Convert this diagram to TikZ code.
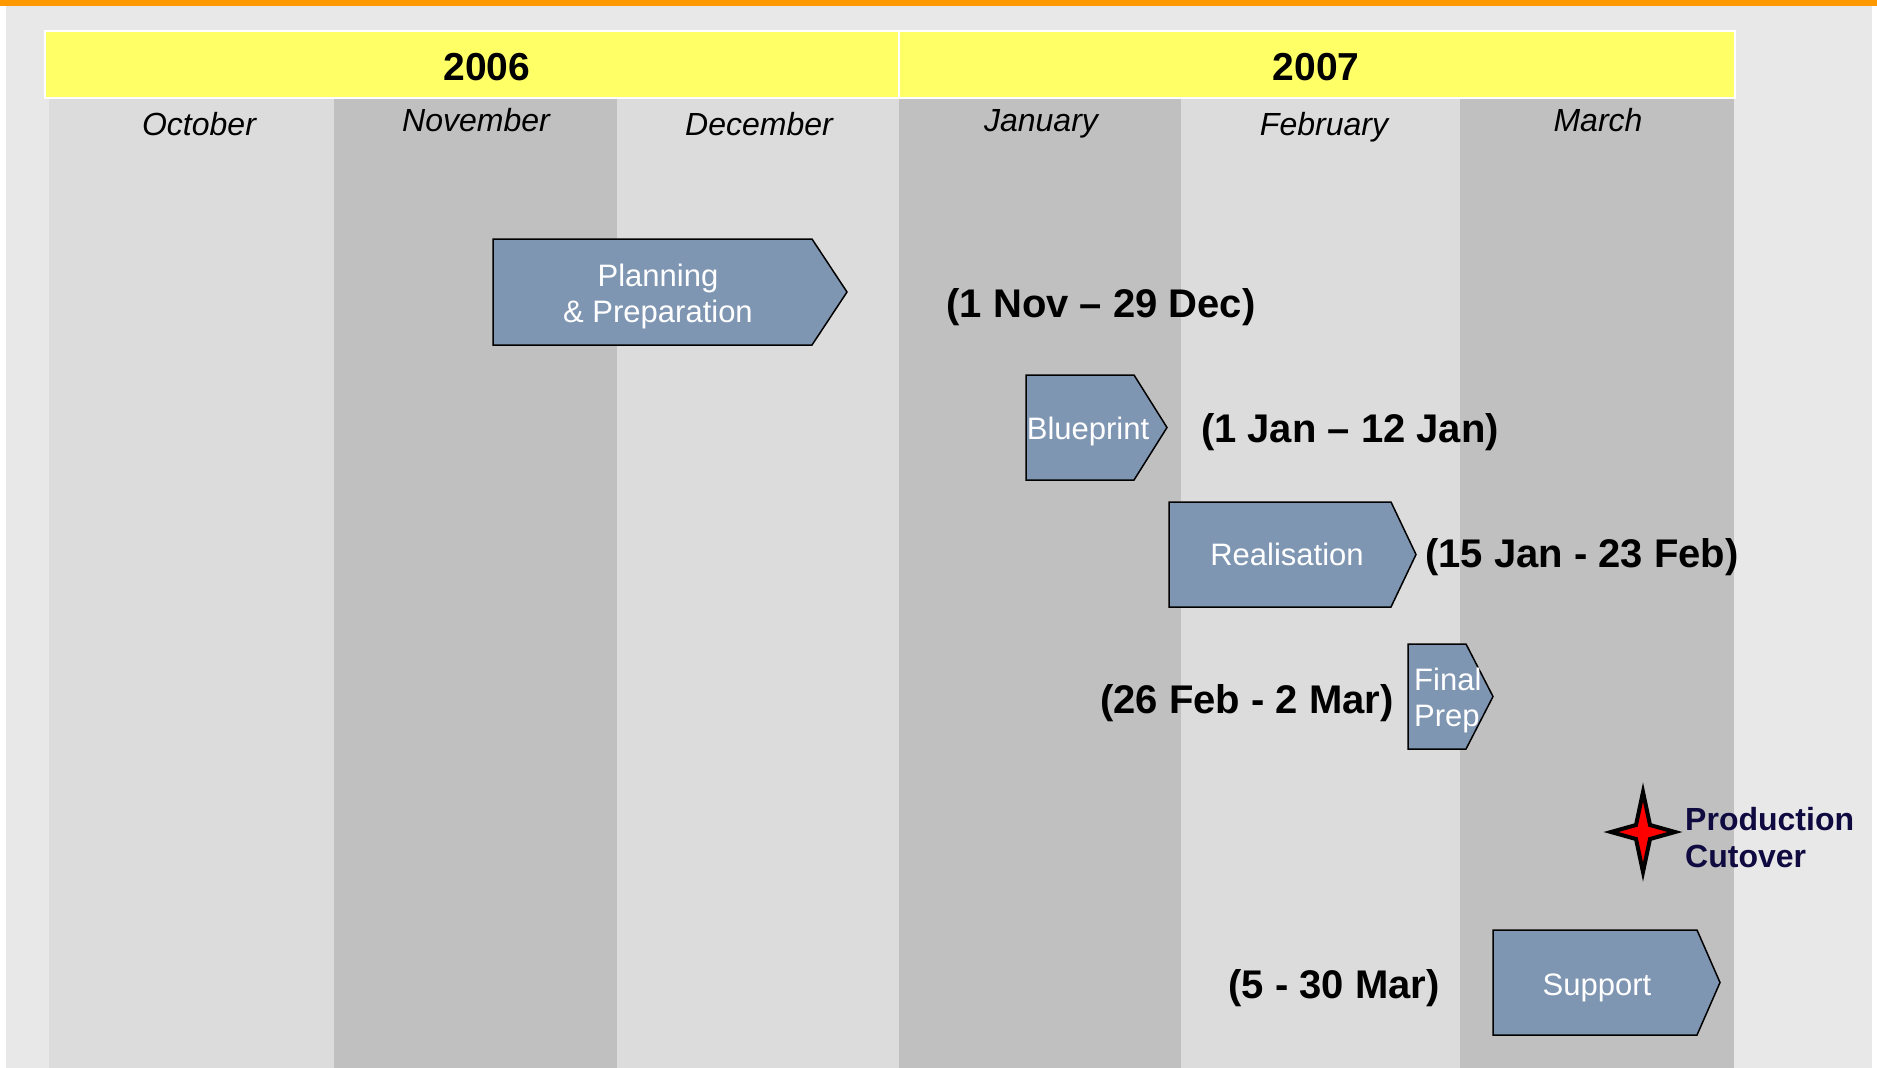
\documentclass[tikz,border=0pt]{standalone}
\usepackage{fontspec}
\setmainfont{Liberation Sans}
\definecolor{orangebar}{HTML}{FF9900}
\definecolor{pagegray}{HTML}{E8E8E8}
\definecolor{colLight}{HTML}{DCDCDC}
\definecolor{colDark}{HTML}{C0C0C0}
\definecolor{hdrYellow}{HTML}{FFFF66}
\definecolor{boxblue}{HTML}{7F96B3}
\definecolor{navytext}{HTML}{0F0A40}
\newcommand\mychev[5]{\draw[chev] (#1,#4) -- (#2,#4) -- (#3,{(#4+#5)/2}) -- (#2,#5) -- (#1,#5) -- cycle;}
\begin{document}
\begin{tikzpicture}[x=1pt,y=-1pt,
  chev/.style={fill=boxblue,draw=black,line width=1.5pt,line join=miter},
  boxtxt/.style={text=white,inner sep=0pt,font=\fontsize{31}{36}\selectfont},
  datetxt/.style={inner sep=0pt,anchor=base,font=\bfseries\fontsize{40}{46}\selectfont},
  monthtxt/.style={inner sep=0pt,anchor=base,font=\itshape\fontsize{32}{38}\selectfont},
  yeartxt/.style={inner sep=0pt,anchor=base,font=\bfseries\fontsize{39}{46}\selectfont}]
\useasboundingbox (0,0) rectangle (1877,1068);
\fill[white] (0,0) rectangle (1877,1068);
\fill[pagegray] (6,0) rectangle (1872,1068);
\fill[orangebar] (0,0) rectangle (1877,6);
% month columns
\fill[colLight] (49,99) rectangle (334,1068);
\fill[colDark] (334,99) rectangle (617,1068);
\fill[colLight] (617,99) rectangle (899,1068);
\fill[colDark] (899,99) rectangle (1181,1068);
\fill[colLight] (1181,99) rectangle (1460,1068);
\fill[colDark] (1460,99) rectangle (1734,1068);
% header
\fill[white] (44,30) rectangle (1736,99);
\fill[hdrYellow] (46,32) rectangle (898,97);
\fill[hdrYellow] (900,32) rectangle (1734,97);
\node[yeartxt] (y2006) at (487,80) {2006};
\node[yeartxt] (y2007) at (1316,80) {2007};
\node[monthtxt] (oct) at (199,135) {October};
\node[monthtxt] (nov) at (476,131) {November};
\node[monthtxt] (dec) at (759,135) {December};
\node[monthtxt] (jan) at (1041,131) {January};
\node[monthtxt] (feb) at (1324,135) {February};
\node[monthtxt] (mar) at (1598,131) {March};
% phases
\mychev{493}{812}{847}{239}{345}
\node[boxtxt,align=center] (plan) at (658,296) {Planning\\\& Preparation};
\node[datetxt] (planD) at (1101,317) {(1 Nov – 29 Dec)};
\mychev{1026}{1134}{1167}{375}{480}
\node[boxtxt,anchor=base] (blue) at (1088,439) {Blueprint};
\node[datetxt] (blueD) at (1350,442) {(1 Jan – 12 Jan)};
\mychev{1169}{1391}{1416}{502}{607}
\node[boxtxt,anchor=base] (real) at (1287,565) {Realisation};
\node[datetxt] (realD) at (1582,567) {(15 Jan - 23 Feb)};
\mychev{1408}{1466}{1493}{644}{749}
\node[boxtxt,align=left,anchor=west] (fin) at (1414,700) {Final\\Prep};
\node[datetxt,anchor=base east] (finD) at (1394,713) {(26 Feb - 2 Mar)};
\mychev{1493}{1697}{1720}{930}{1035}
\node[boxtxt,anchor=base] (sup) at (1597,995) {Support};
\node[datetxt,anchor=base east] (supD) at (1440,998) {(5 - 30 Mar)};
% milestone star
\draw[fill=red,draw=black,line width=4pt,line join=miter,miter limit=20]
  (1643,792) -- (1650,825) -- (1675,832) -- (1650,839) -- (1643,872)
  -- (1636,839) -- (1611,832) -- (1636,825) -- cycle;
\node[inner sep=0pt,anchor=west,align=left,text=navytext,
  font=\bfseries\fontsize{32}{37}\selectfont] (cut) at (1685,838) {Production\\Cutover};
\end{tikzpicture}
\end{document}
